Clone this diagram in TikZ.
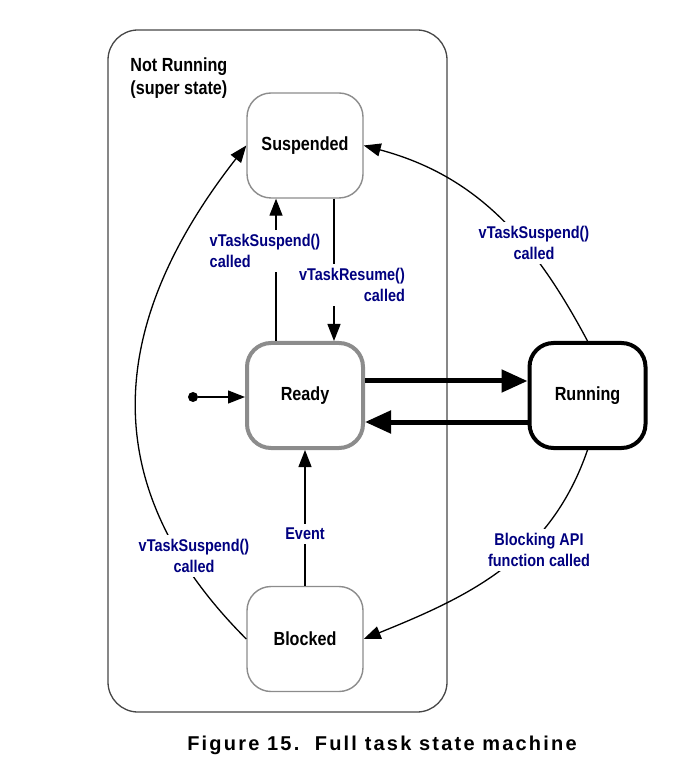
\documentclass[tikz,border=0pt]{standalone}
\usepackage{fontspec}
\setmainfont{Liberation Sans}[FakeStretch=0.85]
\newfontfamily\capfont{Liberation Sans}[LetterSpace=11]
\usepackage{tikz}
\usetikzlibrary{positioning}
\usetikzlibrary{arrows.meta}
\usetikzlibrary{calc}
\definecolor{lblblue}{RGB}{0,0,128}
\definecolor{boxgray}{RGB}{140,140,140}
\definecolor{framegray}{RGB}{70,70,70}

\begin{document}
\begin{tikzpicture}[
  x=0.5pt, y=0.5pt,
  font=\bfseries\fontsize{9.5}{11.5}\selectfont,
  state/.style={
    draw=boxgray, line width=0.7pt, rounded corners=12pt,
    minimum width=58pt, minimum height=52.5pt, fill=white,
  },
  superstate/.style={
    draw=framegray, line width=0.65pt, rounded corners=15pt,
    minimum width=169.5pt, minimum height=341pt,
  },
  move/.style={line width=0.65pt, -{Triangle[length=8.5pt,width=6.5pt]}},
  bigmove/.style={line width=2.5pt, -{Triangle[length=13pt,width=11pt]}},
  trans/.style={
    text=lblblue, font=\bfseries\fontsize{8.5}{10.5}\selectfont,
    fill=white, inner sep=2pt,
  },
]
  \useasboundingbox (0,0) rectangle (683,-779);

  \node[superstate] (notrunning) at (277.5,-371) {};
  \node[anchor=north west, align=left, inner sep=0pt] (superlbl) at (130,-57)
    {Not Running\\(super state)};

  \node[state] (Suspended) at (305,-145.5) {Suspended};
  \node[state, line width=2pt] (Ready) at (305,-395.5) {Ready};
  \node[state] (Blocked) at (305,-639) {Blocked};
  \node[state, draw=black, line width=2pt] (Running) at (587.5,-395.5) {Running};
  \node[circle, fill, inner sep=0pt, minimum size=5pt] (init) at (193,-397) {};

  \draw[move] (init) -- (init -| Ready.west);
  \draw[bigmove] ($(Ready.east)+(0,14.5)$) -- ($(Running.west)+(0,14.5)$);
  \draw[bigmove] ($(Running.west)+(0,-26.5)$) -- ($(Ready.east)+(0,-26.5)$);
  \draw[move] ($(Ready.north)+(-29,0)$) -- ($(Suspended.south)+(-29,0)$);
  \draw[move] ($(Suspended.south)+(29,0)$) -- ($(Ready.north)+(29,0)$);
  \draw[move] (Blocked.north) -- (Ready.south);
  \draw[move] (Running.north) to[out=118, in=-15] (Suspended.east);
  \draw[move] (Running.south) to[out=-109, in=22] (Blocked.east);
  \draw[move] (Blocked.west) to[out=135, in=-128, looseness=1.15] (Suspended.west);

  \node[trans, align=left] (lblsusp) at (265,-251) {vTaskSuspend()\\called};
  \node[trans, align=right] (lblres) at (352,-285) {vTaskResume()\\called};
  \node[trans, align=center] (lblrunsusp) at (534,-243) {vTaskSuspend()\\called};
  \node[trans, align=center] (lblblock) at (539,-550) {Blocking API\\function called};
  \node[trans, align=center] (lblblksusp) at (194,-556) {vTaskSuspend()\\called};
  \node[trans] (lblevent) at (305,-534) {Event};

  \node (caption) at (382,-745)
    {\capfont\bfseries\fontsize{10}{12}\selectfont Figure 15.~~Full task state machine};
\end{tikzpicture}
\end{document}
